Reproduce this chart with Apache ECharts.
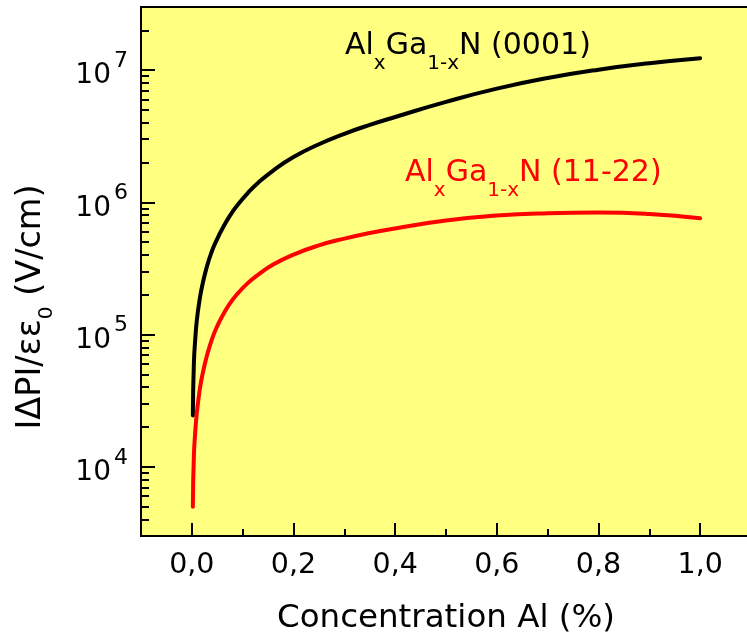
<!DOCTYPE html>
<html><head><meta charset="utf-8">
<script src="https://cdn.jsdelivr.net/npm/echarts@6/dist/echarts.min.js"></script>
<style>html,body{margin:0;padding:0;background:#fff}#c{width:747px;height:641px}</style>
</head><body><div id="c"></div>
<script>
const concentration = [0.002, 0.004, 0.007, 0.01, 0.015, 0.02, 0.03, 0.04, 0.05, 0.06, 0.075, 0.09, 0.11, 0.13, 0.16, 0.2, 0.25, 0.3, 0.35, 0.4, 0.5, 0.6, 0.7, 0.8, 0.9, 1.0];
const field0001 = [2.45e4, 6.03e4, 9.55e4, 1.30e5, 1.80e5, 2.30e5, 3.31e5, 4.32e5, 5.30e5, 6.31e5, 7.94e5, 9.55e5, 1.175e6, 1.40e6, 1.74e6, 2.20e6, 2.75e6, 3.30e6, 3.85e6, 4.42e6, 5.75e6, 7.24e6, 8.71e6, 1.007e7, 1.127e7, 1.23e7];
const field1122 = [5.0e3, 1.2e4, 1.9e4, 2.6e4, 3.7e4, 4.8e4, 7.0e4, 9.33e4, 1.16e5, 1.38e5, 1.72e5, 2.04e5, 2.45e5, 2.83e5, 3.39e5, 4.03e5, 4.73e5, 5.32e5, 5.86e5, 6.35e5, 7.28e5, 7.94e5, 8.28e5, 8.39e5, 8.17e5, 7.59e5];
const xTickValues = [0, 0.2, 0.4, 0.6, 0.8, 1.0];
const xTickLabels = ['0,0', '0,2', '0,4', '0,6', '0,8', '1,0'];
const xMinorTicks = [0.1, 0.3, 0.5, 0.7, 0.9];
const yTickValues = [1e4, 1e5, 1e6, 1e7];
const yTickExponents = ['4', '5', '6', '7'];
const yMinorTicks = [3e3, 4e3, 5e3, 6e3, 7e3, 8e3, 9e3, 2e4, 3e4, 4e4, 5e4, 6e4, 7e4, 8e4, 9e4, 2e5, 3e5, 4e5, 5e5, 6e5, 7e5, 8e5, 9e5, 2e6, 3e6, 4e6, 5e6, 6e6, 7e6, 8e6, 9e6, 2e7, 3e7];

const FONT = '"DejaVu Sans", sans-serif';
const chart = echarts.init(document.getElementById('c'), null, {renderer: 'canvas'});

const subRich = (color) => ({
  b: {fontSize: 30, lineHeight: 30, verticalAlign: 'top', fontFamily: FONT, fill: color},
  s: {fontSize: 20, lineHeight: 20, padding: [22, 0, 0, 0], verticalAlign: 'top', fontFamily: FONT, fill: color}
});

const option = {
  animation: false,
  backgroundColor: '#ffffff',
  grid: {left: 141, width: 610, top: 7, bottom: 105, outerBoundsMode: 'none', containLabel: false,
    show: true, backgroundColor: '#ffff80', borderColor: '#000', borderWidth: 2},
  xAxis: [{
    type: 'value', min: -0.1, max: 1.1, position: 'bottom',
    name: 'Concentration Al (%)', nameLocation: 'middle', nameGap: 66,
    nameTextStyle: {fontSize: 32.5, fontFamily: FONT, color: '#000'},
    axisLine: {show: true, onZero: false, lineStyle: {color: '#000', width: 2}},
    axisTick: {show: true, inside: true, length: 13, lineStyle: {color: '#000', width: 2}, customValues: xTickValues},
    axisLabel: {show: true, margin: 15, fontSize: 28.5, fontFamily: FONT, color: '#000', customValues: xTickValues,
      formatter: (v) => { const i = xTickValues.findIndex(t => Math.abs(t - v) < 1e-9); return i >= 0 ? xTickLabels[i] : ''; }},
    splitLine: {show: false}
  }, {
    type: 'value', min: -0.1, max: 1.1, position: 'bottom',
    axisLine: {show: false, onZero: false},
    axisTick: {show: true, inside: true, length: 7, lineStyle: {color: '#000', width: 2}, customValues: xMinorTicks},
    axisLabel: {show: false},
    splitLine: {show: false}
  }],
  yAxis: [{
    type: 'log', logBase: 10, min: 3e3, max: 3e7, position: 'left',
    axisLine: {show: true, onZero: false, lineStyle: {color: '#000', width: 2}},
    axisTick: {show: true, inside: true, length: 14, lineStyle: {color: '#000', width: 2}, customValues: yTickValues},
    axisLabel: {show: true, margin: 13, customValues: yTickValues,
      formatter: (v) => { const i = yTickValues.findIndex(t => Math.abs(t - v) / t < 1e-6); return i >= 0 ? '{b|10}{s|' + yTickExponents[i] + '}' : ''; },
      rich: {
        b: {fontSize: 28, lineHeight: 40, verticalAlign: 'bottom', fontFamily: FONT, color: '#000'},
        s: {fontSize: 22, lineHeight: 22, padding: [0, 0, 0, 3], verticalAlign: 'top', fontFamily: FONT, color: '#000'}
      }},
    splitLine: {show: false}, minorTick: {show: false}
  }, {
    type: 'log', logBase: 10, min: 3e3, max: 3e7, position: 'left',
    axisLine: {show: false, onZero: false},
    axisTick: {show: true, inside: true, length: 8, lineStyle: {color: '#000', width: 2}, customValues: yMinorTicks},
    axisLabel: {show: false},
    splitLine: {show: false}
  }],
  graphic: [
    {type: 'text', x: 14, y: 307, rotation: Math.PI / 2, silent: true,
      style: {text: '{b|IΔPI/εε}{s|0}{b| (V/cm)}', align: 'center', verticalAlign: 'top', fill: '#000',
        rich: {
          b: {fontSize: 33.5, lineHeight: 33, verticalAlign: 'top', fontFamily: FONT, fill: '#000'},
          s: {fontSize: 20, lineHeight: 20, padding: [23, 0, 0, 0], verticalAlign: 'top', fontFamily: FONT, fill: '#000'}
        }}},
    {type: 'text', x: 345, y: 31.6, silent: true,
      style: {text: '{b|Al}{s|x}{b|Ga}{s|1-x}{b|N (0001)}', align: 'left', verticalAlign: 'top', fill: '#000', rich: subRich('#000')}},
    {type: 'text', x: 405, y: 158.6, silent: true,
      style: {text: '{b|Al}{s|x}{b|Ga}{s|1-x}{b|N (11-22)}', align: 'left', verticalAlign: 'top', fill: '#ff0000', rich: subRich('#ff0000')}}
  ],
  series: [{
    name: 'AlxGa1-xN (0001)', type: 'line', xAxisIndex: 0, yAxisIndex: 0, smooth: 0.5, showSymbol: false,
    lineStyle: {color: '#000', width: 4, cap: 'round'},
    data: concentration.map((x, i) => [x, field0001[i]])
  }, {
    name: 'AlxGa1-xN (11-22)', type: 'line', xAxisIndex: 0, yAxisIndex: 0, smooth: 0.5, showSymbol: false,
    lineStyle: {color: '#ff0000', width: 4, cap: 'round'},
    data: concentration.map((x, i) => [x, field1122[i]])
  }]
};
chart.setOption(option);
</script>
</body></html>
